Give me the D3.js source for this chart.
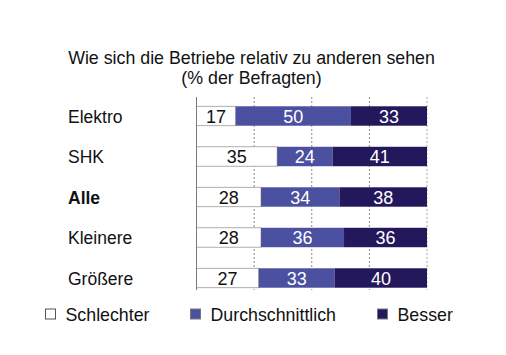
<!DOCTYPE html>
<html><head><meta charset="utf-8">
<script src="https://cdn.jsdelivr.net/npm/d3@7"></script>
<style>body{margin:0;background:#fff;} svg{display:block;}</style>
</head><body>
<script>
const categories = ["Elektro", "SHK", "Alle", "Kleinere", "Größere"];
const seriesNames = ["Schlechter", "Durchschnittlich", "Besser"];
const schlechter = [17, 35, 28, 28, 27];
const durchschnittlich = [50, 24, 34, 36, 33];
const besser = [33, 41, 38, 36, 40];
const gridTicks = [25, 50, 75];
const colors = ["#ffffff", "#4c50a0", "#24185c"];

const W = 506, H = 355;
const svg = d3.select("body").append("svg").attr("width", W).attr("height", H);
const font = "Liberation Sans, Arial, sans-serif";
const fs = 17.8;

const x = d3.scaleLinear().domain([0, 100]).range([196.5, 427]);
const y = d3.scaleBand().domain(categories).range([95.75, 298.25]).paddingInner(0.52).paddingOuter(0.26);

// title
svg.append("text").attr("x", 251.5).attr("y", 64).attr("text-anchor", "middle")
  .attr("font-family", font).attr("font-size", fs).attr("fill", "#111")
  .text("Wie sich die Betriebe relativ zu anderen sehen");
svg.append("text").attr("x", 251.5).attr("y", 84).attr("text-anchor", "middle")
  .attr("font-family", font).attr("font-size", fs).attr("fill", "#111")
  .text("(% der Befragten)");

const gTop = 97, gBot = 290;
svg.selectAll("line.grid").data(gridTicks).enter().append("line")
  .attr("x1", d => x(d)).attr("x2", d => x(d)).attr("y1", gTop).attr("y2", gBot)
  .attr("stroke", "#888").attr("stroke-width", 1).attr("stroke-dasharray", "2,2");
svg.append("line").attr("x1", x(100)).attr("x2", x(100)).attr("y1", gTop).attr("y2", gBot)
  .attr("stroke", "#aaa").attr("stroke-width", 1).attr("stroke-dasharray", "2,2");

const data = categories.map((c, i) => {
  const vals = [schlechter[i], durchschnittlich[i], besser[i]];
  let acc = 0;
  return vals.map((v, j) => { const o = {cat: c, j, v, x0: acc, x1: acc + v}; acc += v; return o; });
});

const rows = svg.selectAll("g.row").data(data).enter().append("g");
rows.selectAll("rect").data(d => d).enter().append("rect")
  .attr("x", d => x(d.x0)).attr("width", d => x(d.x1) - x(d.x0))
  .attr("y", d => y(d.cat)).attr("height", y.bandwidth())
  .attr("fill", d => colors[d.j])
  .attr("stroke", d => d.j === 0 ? "#999" : "none").attr("stroke-width", 0.8);
rows.selectAll("text").data(d => d).enter().append("text")
  .attr("x", d => x((d.x0 + d.x1) / 2)).attr("y", d => y(d.cat) + y.bandwidth() / 2 + 6.5)
  .attr("text-anchor", "middle").attr("font-family", font).attr("font-size", 18)
  .attr("fill", d => d.j === 0 ? "#111" : "#fff").text(d => d.v);

svg.append("line").attr("x1", x(0)).attr("x2", x(0)).attr("y1", gTop).attr("y2", gBot)
  .attr("stroke", "#777").attr("stroke-width", 1);

svg.selectAll("text.cat").data(categories).enter().append("text")
  .attr("x", 68).attr("y", d => y(d) + y.bandwidth() / 2 + 6.5)
  .attr("font-family", font).attr("font-size", 17.5).attr("fill", "#111")
  .attr("font-weight", d => d === "Alle" ? "bold" : "normal").text(d => d);

const legX = [45.5, 190.5, 377.5];
const leg = svg.selectAll("g.leg").data(seriesNames).enter().append("g");
leg.append("rect").attr("x", (d, i) => legX[i]).attr("y", 309).attr("width", 10).attr("height", 10)
  .attr("fill", (d, i) => colors[i]).attr("stroke", (d, i) => i === 0 ? "#555" : "#777").attr("stroke-width", 1);
leg.append("text").attr("x", (d, i) => legX[i] + 20).attr("y", 320.5)
  .attr("font-family", font).attr("font-size", fs).attr("fill", "#111").text(d => d);
</script>
</body></html>
